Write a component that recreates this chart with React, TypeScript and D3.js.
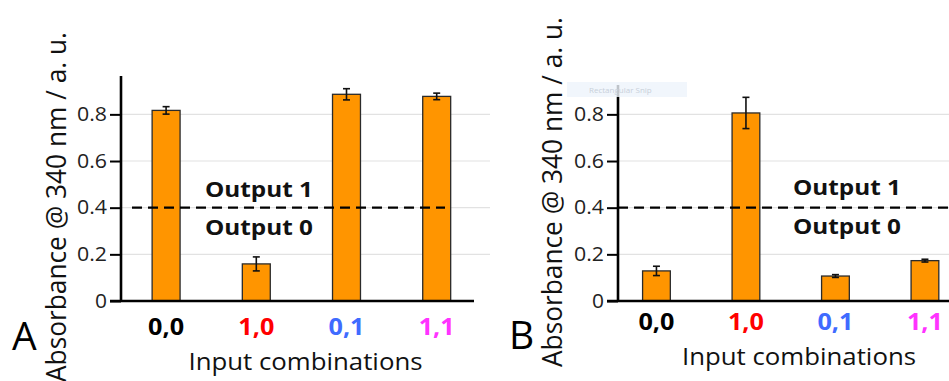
import React, {useEffect, useRef} from 'react';
import * as d3 from 'd3';

const categories = ['0,0', '1,0', '0,1', '1,1'];
const categoryColors = ['#000000', '#ff0000', '#3f6bff', '#ff33ff'];
const yTicks = [0, 0.2, 0.4, 0.6, 0.8];
const threshold = 0.4;

const panelAValues = [0.817, 0.159, 0.886, 0.877];
const panelAErrors = [0.016, 0.03, 0.024, 0.014];
const panelBValues = [0.129, 0.806, 0.107, 0.173];
const panelBErrors = [0.02, 0.067, 0.006, 0.006];

const WIDTH = 949;
const HEIGHT = 381;
const FONT = "'Open Sans', 'Noto Sans', sans-serif";

interface PanelSpec {
  letter: string;
  values: number[];
  errors: number[];
  axisX: number;
  axisTop: number;
  xRange: [number, number];
  xAxisEnd: number;
  gridEnd: number;
  dashStart: number;
  dashEnd: number;
  outputX: number;
  out1Baseline: number;
  out0Baseline: number;
  yLabelX: number;
  yLabelCenter: number;
  letterX: number;
  letterBaseline: number;
  catBaseline: number;
  titleX: number;
  titleBaseline: number;
}

const panels: PanelSpec[] = [
  {
    letter: 'A',
    values: panelAValues,
    errors: panelAErrors,
    axisX: 121,
    axisTop: 76,
    xRange: [121, 481.8],
    xAxisEnd: 474,
    gridEnd: 490,
    dashStart: 132,
    dashEnd: 445,
    outputX: 259,
    out1Baseline: 196.5,
    out0Baseline: 235,
    yLabelX: 66,
    yLabelCenter: 207,
    letterX: 12,
    letterBaseline: 349.5,
    catBaseline: 335,
    titleX: 305.5,
    titleBaseline: 370,
  },
  {
    letter: 'B',
    values: panelBValues,
    errors: panelBErrors,
    axisX: 618,
    axisTop: 85,
    xRange: [611.7, 969.7],
    xAxisEnd: 949,
    gridEnd: 949,
    dashStart: 618,
    dashEnd: 949,
    outputX: 847,
    out1Baseline: 195,
    out0Baseline: 234,
    yLabelX: 562,
    yLabelCenter: 192,
    letterX: 509,
    letterBaseline: 348.5,
    catBaseline: 330,
    titleX: 799,
    titleBaseline: 365,
  },
];

const App: React.FC = () => {
  const svgRef = useRef<SVGSVGElement | null>(null);

  useEffect(() => {
    if (!svgRef.current) return;
    const svg = d3.select(svgRef.current);
    svg.selectAll('*').remove();

    svg
      .append('rect')
      .attr('width', WIDTH)
      .attr('height', HEIGHT)
      .attr('fill', '#ffffff');

    const y = d3.scaleLinear().domain([0, 1]).range([301, 301 - 233.3]);

    panels.forEach((p) => {
      const g = svg.append('g');
      const x = d3
        .scaleBand<string>()
        .domain(categories)
        .range(p.xRange)
        .paddingInner(0.69)
        .paddingOuter(0.345);
      const cx = (c: string) => x(c)! + x.bandwidth() / 2;

      // gridlines
      g.selectAll('.grid')
        .data(yTicks.filter((t) => t > 0))
        .enter()
        .append('line')
        .attr('x1', p.axisX)
        .attr('x2', p.gridEnd)
        .attr('y1', (d) => y(d))
        .attr('y2', (d) => y(d))
        .attr('stroke', '#e2e2e2')
        .attr('stroke-width', 1.2);

      // bars
      g.selectAll('.bar')
        .data(p.values)
        .enter()
        .append('rect')
        .attr('x', (_d, i) => x(categories[i])!)
        .attr('width', x.bandwidth())
        .attr('y', (d) => y(d))
        .attr('height', (d) => y(0) - y(d))
        .attr('fill', '#ff9500')
        .attr('stroke', '#2b2b2b')
        .attr('stroke-width', 1.3);

      // error bars
      const errG = g
        .selectAll('.err')
        .data(p.values)
        .enter()
        .append('g')
        .attr('stroke', '#111')
        .attr('stroke-width', 1.6);
      errG
        .append('line')
        .attr('x1', (_d, i) => cx(categories[i]))
        .attr('x2', (_d, i) => cx(categories[i]))
        .attr('y1', (d, i) => y(d + p.errors[i]))
        .attr('y2', (d, i) => y(d - p.errors[i]));
      [1, -1].forEach((s) => {
        errG
          .append('line')
          .attr('x1', (_d, i) => cx(categories[i]) - 3.5)
          .attr('x2', (_d, i) => cx(categories[i]) + 3.5)
          .attr('y1', (d, i) => y(d + s * p.errors[i]))
          .attr('y2', (d, i) => y(d + s * p.errors[i]));
      });

      // threshold dashed line
      g.append('line')
        .attr('x1', p.dashStart)
        .attr('x2', p.dashEnd)
        .attr('y1', y(threshold))
        .attr('y2', y(threshold))
        .attr('stroke', '#000')
        .attr('stroke-width', 2.3)
        .attr('stroke-dasharray', '10,6');

      [
        {label: 'Output 1', base: p.out1Baseline},
        {label: 'Output 0', base: p.out0Baseline},
      ].forEach((o) => {
        g.append('text')
          .attr('x', p.outputX)
          .attr('y', o.base)
          .attr('text-anchor', 'middle')
          .attr('textLength', 108)
          .attr('lengthAdjust', 'spacingAndGlyphs')
          .style('font-family', FONT)
          .style('font-weight', 'bold')
          .style('font-size', '21px')
          .attr('fill', '#111')
          .text(o.label);
      });

      // y axis
      const yAxis = d3
        .axisLeft(y)
        .tickValues(yTicks)
        .tickSize(11)
        .tickPadding(3)
        .tickFormat((d) => (d === 0 ? '0' : d3.format('.1f')(d as number)));
      const yAxisNode = g
        .append('g')
        .attr('transform', `translate(${p.axisX},0)`)
        .call(yAxis);
      yAxisNode.select('.domain').remove();
      yAxisNode
        .selectAll('.tick line')
        .attr('stroke', '#000')
        .attr('stroke-width', 2);
      yAxisNode
        .selectAll<SVGTextElement, number>('.tick text')
        .attr('textLength', (d) => (d === 0 ? 12 : 30))
        .attr('lengthAdjust', 'spacingAndGlyphs')
        .style('font-family', FONT)
        .style('font-size', '19.5px')
        .attr('fill', '#222');
      g.append('line')
        .attr('x1', p.axisX)
        .attr('x2', p.axisX)
        .attr('y1', p.axisTop)
        .attr('y2', y(0))
        .attr('stroke', '#000')
        .attr('stroke-width', 2.6);

      // x axis
      g.append('line')
        .attr('x1', p.axisX - 11)
        .attr('x2', p.xAxisEnd)
        .attr('y1', y(0))
        .attr('y2', y(0))
        .attr('stroke', '#000')
        .attr('stroke-width', 2.6);

      g.selectAll('.cat')
        .data(categories)
        .enter()
        .append('text')
        .attr('x', (d) => cx(d))
        .attr('y', p.catBaseline)
        .attr('text-anchor', 'middle')
        .attr('textLength', 36)
        .attr('lengthAdjust', 'spacingAndGlyphs')
        .attr('fill', (_d, i) => categoryColors[i])
        .style('font-family', FONT)
        .style('font-weight', 'bold')
        .style('font-size', '23.5px')
        .text((d) => d);

      g.append('text')
        .attr('x', p.titleX)
        .attr('y', p.titleBaseline)
        .attr('text-anchor', 'middle')
        .attr('textLength', 234)
        .attr('lengthAdjust', 'spacingAndGlyphs')
        .style('font-family', FONT)
        .style('font-size', '23.5px')
        .attr('fill', '#111')
        .text('Input combinations');

      g.append('text')
        .attr(
          'transform',
          `translate(${p.yLabelX},${p.yLabelCenter}) rotate(-90)`
        )
        .attr('text-anchor', 'middle')
        .attr('textLength', 350)
        .attr('lengthAdjust', 'spacingAndGlyphs')
        .style('font-family', FONT)
        .style('font-size', '27px')
        .attr('fill', '#111')
        .text('Absorbance @ 340 nm / a. u.');

      g.append('text')
        .attr('x', p.letterX)
        .attr('y', p.letterBaseline)
        .style('font-family', FONT)
        .style('font-size', '39px')
        .attr('fill', '#000')
        .text(p.letter);
    });

    // faint screenshot overlay in panel B
    svg
      .append('rect')
      .attr('x', 567)
      .attr('y', 82)
      .attr('width', 120)
      .attr('height', 15)
      .attr('fill', '#eef4fb')
      .attr('opacity', 0.8);
    svg
      .append('text')
      .attr('x', 589)
      .attr('y', 93)
      .style('font-family', FONT)
      .style('font-size', '8px')
      .attr('fill', '#c8d0da')
      .text('Rectangular Snip');
  }, []);

  return (
    <div style={{position: 'fixed', left: 0, top: 0}}>
      <svg ref={svgRef} width={WIDTH} height={HEIGHT} style={{display: 'block'}} />
    </div>
  );
};

export default App;
